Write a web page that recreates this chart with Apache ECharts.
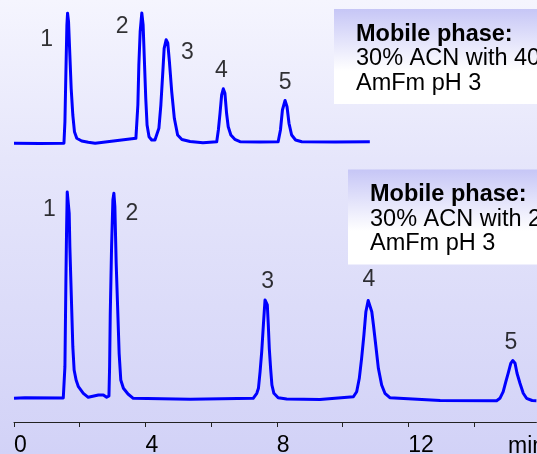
<!DOCTYPE html>
<html>
<head>
<meta charset="utf-8">
<script src="https://cdn.jsdelivr.net/npm/echarts@6/dist/echarts.min.js"></script>
<style>
html,body{margin:0;padding:0;}
#c{width:537px;height:454px;background:linear-gradient(to bottom,#f5f5fe 0%,#e6e6fb 35%,#d2d2f7 100%);}
</style>
</head>
<body>
<div id="c"></div>
<script>
// Top chromatogram (30% ACN with 40 mM AmFm pH 3): time (min) and signal
const topTime   = [0.00,0.79,1.52,1.55,1.58,1.61,1.63,1.66,1.70,1.74,1.79,1.84,1.91,2.06,2.26,2.47,3.71,3.77,3.80,3.84,3.89,3.93,3.97,4.01,4.05,4.11,4.19,4.29,4.41,4.47,4.53,4.57,4.63,4.68,4.73,4.80,4.88,4.98,5.11,5.36,5.75,6.17,6.22,6.27,6.32,6.37,6.42,6.47,6.52,6.60,6.72,6.88,7.49,8.04,8.11,8.17,8.25,8.31,8.37,8.45,8.57,8.76,9.77,10.83];
const topSignal = [0.7,0.5,0.7,22.3,72.3,119,130.8,122.3,89,55.7,29,12.3,5.7,3,1.7,0.7,5.7,39,79,112.3,131,119,82.3,45.7,19,7.3,4,4,15.7,39,72.3,95.7,104.2,101,82.3,52.3,25.7,9,4.5,2.5,1.3,2.3,14,30.7,49,55.2,50.7,30.7,17.3,9,4.7,2.3,2,2.3,14,34,43.5,37.3,20.7,9,4,2.3,2,2.3];

// Bottom chromatogram (30% ACN with 20 mM AmFm pH 3): time (min) and signal
const bottomTime   = [0.00,0.33,1.50,1.53,1.55,1.58,1.60,1.62,1.65,1.68,1.70,1.73,1.76,1.79,1.83,1.89,1.96,2.11,2.26,2.57,2.72,2.82,2.89,2.91,2.93,2.97,3.01,3.04,3.07,3.11,3.16,3.20,3.25,3.33,3.47,3.63,5.36,7.28,7.39,7.44,7.49,7.54,7.59,7.64,7.67,7.71,7.74,7.77,7.81,7.85,7.91,8.04,8.30,9.31,10.33,10.43,10.51,10.58,10.65,10.71,10.78,10.84,10.89,10.94,11.01,11.09,11.19,11.29,11.44,12.97,14.69,14.79,14.89,14.97,15.04,15.12,15.18,15.25,15.31,15.40,15.50,15.60,15.77,15.90];
const bottomSignal = [-0.3,0.2,0,1.3,31.3,118,168,206,208,184.7,151.3,118,84.7,51.3,28,18,11.3,4.7,0.7,3,3,0.7,2,31.3,84.7,151.3,198,204.8,191.3,134.7,84.7,44.7,18,9.7,4,-0.3,-1.3,-0.3,4.7,9.7,26.3,46.3,73,98,99.8,93,73,49.7,29.7,13,4.7,0.3,-1,-1.5,1.3,6.3,19.7,39.7,63,86.3,97.5,96.5,86.3,73,53,29.7,13,4.7,0.3,-2.5,-2.7,-0.3,6.3,16.3,24.7,34.7,37.5,34.7,24.7,14.7,4.7,-0.3,-2.5,-2.7];

// Peak number labels
const peakNames = ['1','2','3','4','5'];
const topLabelTime   = [0.995,3.29,5.28,6.31,8.25];
const topLabelValue  = [104.3,117.3,91.5,73.7,61.5];
const bottomLabelTime  = [1.08,3.59,7.72,10.80,15.12];
const bottomLabelValue = [188.7,184.3,116.5,118.8,55.8];

// Axis
const tickValues  = [0,2,4,6,8,10,12,14];
const labelValues = [0,4,8,12];
const axisUnit = 'min';

// Mobile phase notes
const topNote    = ['Mobile phase:','30% ACN with 40 mM','AmFm pH 3'];
const bottomNote = ['Mobile phase:','30% ACN with 20 mM','AmFm pH 3'];

const FONT = '"Liberation Sans", Arial, sans-serif';
const zip = (a,b) => a.map((v,i)=>[v,b[i]]);
const lbl = (t,v) => t.map((x,i)=>({value:[x,v[i]], name:peakNames[i]}));

const chart = echarts.init(document.getElementById('c'), null, {renderer:'canvas'});

function noteGroup(x, y, lines) {
  return {
    type:'group', x:x, y:y, z:10,
    children:[
      {type:'rect', shape:{x:0,y:0,width:537-x,height:95},
       style:{fill:{type:'linear',x:0,y:0,x2:0,y2:1,colorStops:[
         {offset:0,color:'#c6c6f6'},{offset:0.65,color:'#ffffff'},{offset:1,color:'#ffffff'}]}}},
      {type:'text', x:22, y:25.5, style:{text:lines[0], font:'bold 23.5px '+FONT, fill:'#000', verticalAlign:'middle'}},
      {type:'text', x:22, y:50, style:{text:lines[1], font:'23.5px '+FONT, fill:'#000', verticalAlign:'middle'}},
      {type:'text', x:22, y:74.5, style:{text:lines[2], font:'23.5px '+FONT, fill:'#000', verticalAlign:'middle'}}
    ]
  };
}

const labelStyle = {show:true, position:'inside', formatter:'{b}', fontFamily:FONT, fontSize:23, color:'#000', textBorderWidth:0};

chart.setOption({
  backgroundColor:'transparent',
  animation:false,
  grid:[
    {left:14, right:0.6, top:4, bottom:290, outerBoundsMode:'none', containLabel:false},
    {left:14, right:0.6, top:172, bottom:32, outerBoundsMode:'none', containLabel:false}
  ],
  xAxis:[
    {gridIndex:0, type:'value', min:0, max:15.9, show:false},
    {gridIndex:1, type:'value', min:0, max:15.9, interval:2,
     axisLine:{show:true, onZero:false, lineStyle:{color:'#222', width:1}},
     axisTick:{show:true, length:5, customValues:tickValues, lineStyle:{color:'#222'}},
     axisLabel:{customValues:labelValues, align:'left', margin:12,
       fontFamily:FONT, fontSize:23, color:'#000'},
     splitLine:{show:false}}
  ],
  yAxis:[
    {gridIndex:0, type:'value', min:-20, max:140, show:false},
    {gridIndex:1, type:'value', min:-24, max:226, show:false}
  ],
  series:[
    {type:'line', xAxisIndex:0, yAxisIndex:0, data:zip(topTime,topSignal),
     showSymbol:false, symbol:'none', lineStyle:{color:'#0000ff', width:3, join:'round'}, z:3},
    {type:'line', xAxisIndex:1, yAxisIndex:1, data:zip(bottomTime,bottomSignal),
     showSymbol:false, symbol:'none', lineStyle:{color:'#0000ff', width:3, join:'round'}, z:3},
    {type:'scatter', xAxisIndex:0, yAxisIndex:0, data:lbl(topLabelTime,topLabelValue),
     symbolSize:0, label:labelStyle},
    {type:'scatter', xAxisIndex:1, yAxisIndex:1, data:lbl(bottomLabelTime,bottomLabelValue),
     symbolSize:0, label:labelStyle}
  ],
  graphic:[
    noteGroup(334, 9, topNote),
    noteGroup(348, 169.5, bottomNote),
    {type:'text', x:508, y:446.5, style:{text:axisUnit, font:'23px '+FONT, fill:'#000', verticalAlign:'middle'}}
  ]
});
</script>
</body>
</html>
